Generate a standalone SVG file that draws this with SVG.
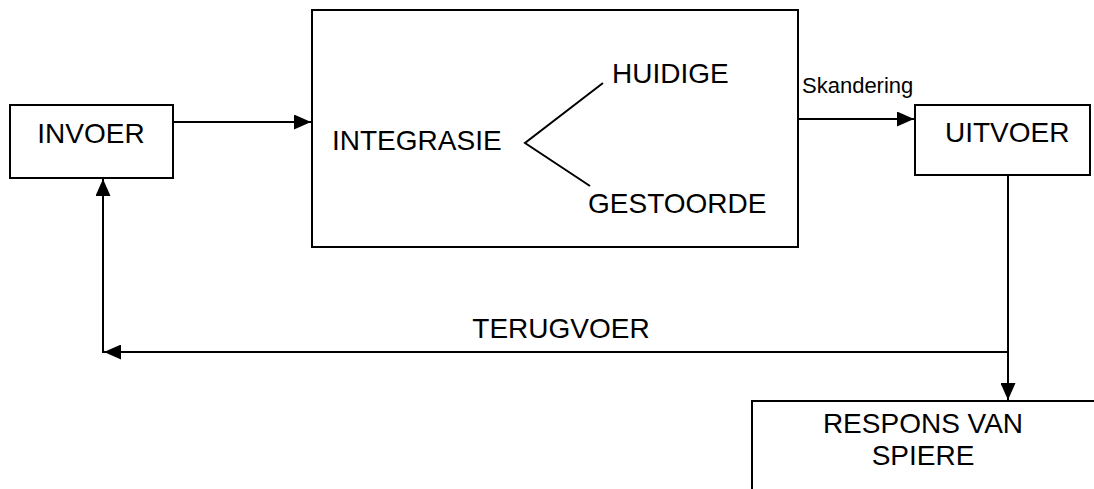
<svg xmlns="http://www.w3.org/2000/svg" width="1094" height="489" viewBox="0 0 1094 489">
  <style>
    .box { fill: #fff; stroke: #000; stroke-width: 2; }
    .lbl { font-family: "Liberation Sans", Arial, sans-serif; font-size: 28px; fill: #000; }
    .sm { font-family: "Liberation Sans", Arial, sans-serif; font-size: 22px; fill: #000; }
    .ln { stroke: #000; stroke-width: 2; fill: none; }
  </style>
  <defs>
    <marker id="arr" markerUnits="userSpaceOnUse" markerWidth="17" markerHeight="15" refX="17" refY="7.5" orient="auto">
      <path d="M0,0 L17,7.5 L0,15 Z" fill="#000"/>
    </marker>
  </defs>
  <rect width="1094" height="489" fill="#fff"/>
  <g id="invoer">
    <rect class="box" x="10" y="105" width="163" height="73"/>
    <text class="lbl" x="91" y="143" text-anchor="middle">INVOER</text>
  </g>
  <g id="integrasie">
    <rect class="box" x="312" y="10" width="486" height="237"/>
    <text class="lbl" x="332" y="150">INTEGRASIE</text>
    <path class="ln" d="M603,83 L525,143 L590,186"/>
    <text class="lbl" x="612" y="83">HUIDIGE</text>
    <text class="lbl" x="588" y="213">GESTOORDE</text>
  </g>
  <g id="uitvoer">
    <rect class="box" x="915" y="105" width="175" height="70"/>
    <text class="lbl" x="945" y="142">UITVOER</text>
  </g>
  <g id="respons">
    <path class="ln" d="M752,495 L752,401 L1100,401"/>
    <text class="lbl" x="923" y="433" text-anchor="middle">RESPONS VAN</text>
    <text class="lbl" x="923" y="465" text-anchor="middle">SPIERE</text>
  </g>
  <g id="connectors">
    <line class="ln" x1="173" y1="122" x2="311" y2="122" marker-end="url(#arr)"/>
    <line class="ln" x1="798" y1="119" x2="914" y2="119" marker-end="url(#arr)"/>
    <text class="sm" x="802" y="93">Skandering</text>
    <line class="ln" x1="1008" y1="175" x2="1008" y2="400" marker-end="url(#arr)"/>
    <line class="ln" x1="1008" y1="352" x2="104" y2="352" marker-end="url(#arr)"/>
    <line class="ln" x1="103" y1="353" x2="103" y2="179" marker-end="url(#arr)"/>
    <text class="lbl" x="561" y="338" text-anchor="middle">TERUGVOER</text>
  </g>
</svg>
